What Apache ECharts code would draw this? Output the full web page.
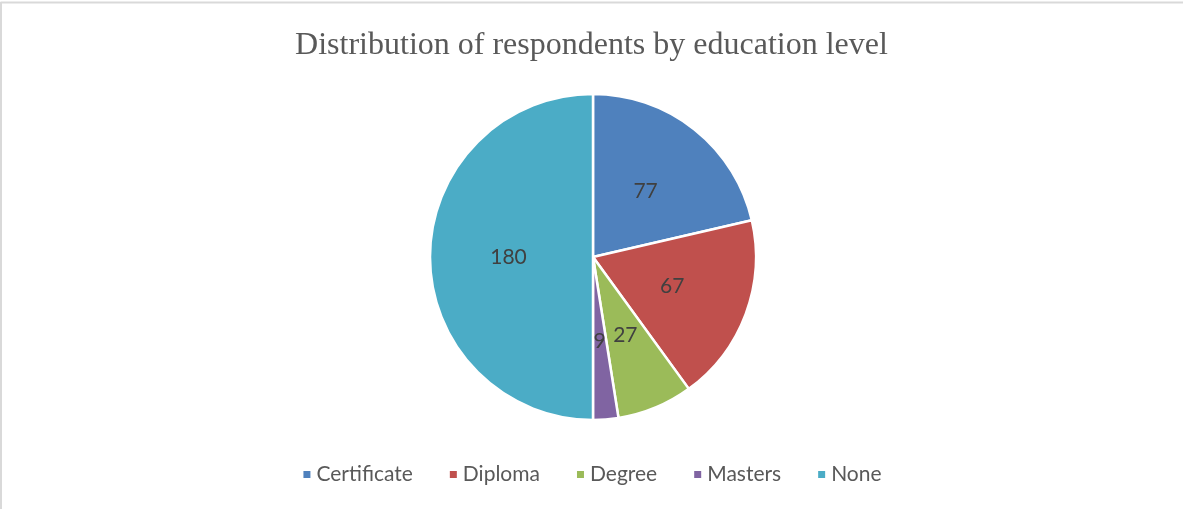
<!DOCTYPE html>
<html>
<head>
<meta charset="utf-8">
<script src="https://cdn.jsdelivr.net/npm/echarts@6/dist/echarts.min.js"></script>
<style>
  html, body { margin: 0; padding: 0; background: #fff; }
  #chart { width: 1183px; height: 509px; }
</style>
</head>
<body>
<div id="chart"></div>
<script>
// Respondents per education level
const categories = ['Certificate', 'Diploma', 'Degree', 'Masters', 'None'];
const counts = [77, 67, 27, 9, 180];
const colors = ['#4F81BD', '#C0504D', '#9BBB59', '#8064A2', '#4BACC6'];

const chart = echarts.init(document.getElementById('chart'), null, { renderer: 'canvas' });

chart.setOption({
  animation: false,
  color: colors,
  title: {
    text: 'Distribution of respondents by education level',
    left: 'center',
    top: 25,
    textStyle: {
      fontFamily: '"Liberation Serif", "Times New Roman", serif',
      fontWeight: 'normal',
      fontSize: 32,
      color: '#595959'
    }
  },
  legend: {
    top: 459,
    left: 'center',
    icon: 'rect',
    itemWidth: 9,
    itemHeight: 9,
    itemGap: 35,
    textStyle: {
      fontFamily: 'Lato, "Open Sans", sans-serif',
      fontSize: 21,
      color: '#595959'
    },
    data: categories
  },
  graphic: [
    { type: 'line', shape: { x1: 0.5, y1: 2.5, x2: 1183, y2: 2.5 }, style: { stroke: '#d9d9d9', lineWidth: 2 } },
    { type: 'line', shape: { x1: 1, y1: 2, x2: 1, y2: 509 }, style: { stroke: '#d9d9d9', lineWidth: 2 } }
  ],
  series: [{
    type: 'pie',
    center: [593, 257],
    radius: [0, 163],
    startAngle: 90,
    clockwise: true,
    avoidLabelOverlap: false,
    itemStyle: { borderColor: '#ffffff', borderWidth: 2.5 },
    label: {
      show: true,
      position: 'inside',
      formatter: '{c}',
      fontFamily: 'Lato, "Open Sans", sans-serif',
      fontSize: 21,
      color: '#404040'
    },
    labelLine: { show: false },
    emphasis: { disabled: true },
    data: categories.map((name, i) => ({ name, value: counts[i] }))
  }]
});
</script>
</body>
</html>
